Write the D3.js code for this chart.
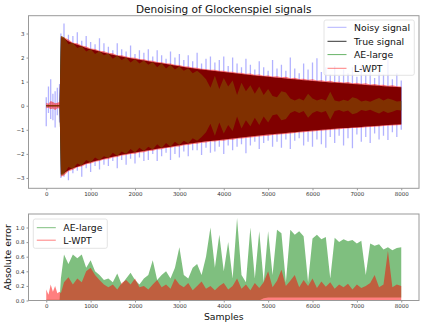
<!DOCTYPE html>
<html>
<head>
<meta charset="utf-8">
<script src="https://cdn.jsdelivr.net/npm/d3@7"></script>
<style>
  body { margin: 0; background: #fff; }
  text { font-family: "DejaVu Sans", sans-serif; }
</style>
</head>
<body>
<script>
// sample positions the envelopes were read at
const samples = [0, 50, 100, 150, 200, 250, 300, 330].concat(d3.range(400, 8001, 100));

// top panel: envelopes of the (dense) signals
const noisyHi = [0.35, 0.8, 1.1, 0.5, 0.6, 0.75, 0.9, 3.0,
  3.42, 2.95, 2.9, 3.05, 2.7, 2.9, 2.65, 2.55, 2.8, 2.6,
  2.45, 2.3, 2.6, 2.35, 2.25, 2.5, 2.15, 2.3, 2.2, 2.35,
  2.05, 2.3, 2.1, 1.95, 2.25, 2.0, 2.15, 1.9, 2.1, 1.85,
  2.2, 1.75, 1.95, 2.05, 1.8, 1.9, 2.05, 1.65, 2.0, 1.75,
  1.6, 1.95, 1.7, 1.5, 1.85, 1.6, 1.45, 1.9, 1.55, 1.7,
  1.45, 2.0, 1.55, 1.35, 1.75, 1.5, 1.8, 1.97, 1.4, 1.6,
  1.3, 1.65, 1.25, 1.5, 1.35, 1.6, 1.2, 1.7, 1.3, 1.5,
  1.15, 1.45, 1.3, 1.9, 1.1, 1.35, 1.05];
const noisyLo = [-0.85, -0.3, -0.55, -0.6, -0.9, -0.4, -0.7, -3.0,
  -2.95, -3.1, -2.8, -2.7, -2.95, -2.6, -2.75, -2.5, -2.65, -2.45,
  -2.5, -2.3, -2.6, -2.25, -2.45, -2.2, -2.4, -2.15, -2.3, -2.25,
  -2.0, -2.3, -2.1, -1.95, -2.25, -2.0, -2.15, -1.9, -2.1, -1.85,
  -1.85, -2.05, -1.75, -1.95, -1.9, -1.7, -2.0, -1.65, -1.85, -1.7,
  -1.6, -1.97, -1.65, -1.5, -1.8, -1.55, -1.45, -1.7, -1.5, -1.75,
  -1.4, -1.8, -1.45, -1.35, -1.65, -1.5, -1.7, -1.4, -1.6, -1.75,
  -1.3, -1.55, -1.25, -1.65, -1.35, -1.77, -1.2, -1.5, -1.3, -1.55,
  -1.15, -1.4, -1.25, -1.42, -1.1, -1.3, -1.0];
const trueAmp = [0.02, 0.02, 0.02, 0.02, 0.02, 0.02, 0.02, 2.85,
  2.8, 2.68, 2.6, 2.53, 2.47, 2.4, 2.35, 2.3, 2.25, 2.2,
  2.16, 2.12, 2.08, 2.04, 2.0, 1.97, 1.94, 1.91, 1.88, 1.85,
  1.82, 1.79, 1.76, 1.73, 1.7, 1.67, 1.64, 1.61, 1.58, 1.56,
  1.53, 1.51, 1.48, 1.46, 1.44, 1.42, 1.4, 1.38, 1.36, 1.34,
  1.32, 1.3, 1.28, 1.26, 1.24, 1.22, 1.2, 1.18, 1.16, 1.15,
  1.13, 1.11, 1.1, 1.08, 1.06, 1.05, 1.03, 1.02, 1.0, 0.99,
  0.97, 0.96, 0.94, 0.93, 0.92, 0.9, 0.89, 0.88, 0.86, 0.85,
  0.84, 0.83, 0.81, 0.8, 0.79, 0.78, 0.77];
const aeAmp = [0.03, 0.03, 0.03, 0.03, 0.03, 0.03, 0.03, 2.9,
  2.85, 2.55, 2.62, 2.4, 2.48, 2.25, 2.36, 2.15, 2.26, 2.1,
  2.17, 1.95, 2.09, 1.9, 2.0, 1.8, 1.94, 1.75, 1.88, 1.7,
  1.82, 1.6, 1.76, 1.55, 1.7, 1.5, 1.63, 1.45, 1.56, 1.35,
  1.45, 1.3, 1.1, 0.75, 1.25, 0.7, 1.15, 0.8, 1.05, 0.45,
  0.95, 0.6, 0.85, 0.5, 0.8, 0.45, 0.7, 0.4, 0.35, 0.6,
  0.55, 0.3, 0.22, 0.3, 0.22, 0.5, 0.3, 0.22, 0.28, 0.22,
  0.58, 0.22, 0.18, 0.25, 0.2, 0.35, 0.3, 0.18, 0.22, 0.17,
  0.25, 0.32, 0.22, 0.3, 0.25, 0.18, 0.2];
const lwptHi = [0.12, 0.08, 0.2, 0.15, 0.1, 0.12, 0.15, 2.9,
  2.85, 2.75, 2.62, 2.6, 2.5, 2.46, 2.38, 2.36, 2.28, 2.26,
  2.2, 2.18, 2.1, 2.1, 2.04, 2.0, 1.99, 1.94, 1.93, 1.88,
  1.87, 1.82, 1.81, 1.76, 1.75, 1.7, 1.69, 1.64, 1.63, 1.59,
  1.58, 1.54, 1.53, 1.49, 1.49, 1.45, 1.45, 1.41, 1.41, 1.37,
  1.37, 1.33, 1.34, 1.29, 1.3, 1.25, 1.26, 1.21, 1.22, 1.18,
  1.2, 1.14, 1.16, 1.11, 1.12, 1.08, 1.1, 1.05, 1.06, 1.02,
  1.04, 0.99, 1.0, 0.96, 0.99, 0.93, 0.95, 0.91, 0.93, 0.88,
  0.9, 0.86, 0.87, 0.83, 0.85, 0.81, 0.8];
const lwptLo = [-0.1, -0.08, -0.15, -0.12, -0.18, -0.1, -0.12, -2.95,
  -2.9, -2.72, -2.66, -2.56, -2.52, -2.43, -2.4, -2.33, -2.3, -2.23,
  -2.21, -2.15, -2.13, -2.07, -2.05, -2.0, -1.99, -1.94, -1.93, -1.88,
  -1.87, -1.82, -1.81, -1.76, -1.75, -1.7, -1.69, -1.64, -1.63, -1.59,
  -1.58, -1.54, -1.53, -1.49, -1.49, -1.45, -1.45, -1.41, -1.41, -1.37,
  -1.36, -1.34, -1.32, -1.3, -1.28, -1.26, -1.25, -1.22, -1.21, -1.18,
  -1.17, -1.15, -1.13, -1.11, -1.1, -1.08, -1.07, -1.05, -1.04, -1.02,
  -1.01, -0.99, -0.98, -0.96, -0.95, -0.93, -0.92, -0.91, -0.89, -0.88,
  -0.87, -0.86, -0.84, -0.83, -0.82, -0.81, -0.8];

// bottom panel: absolute error envelopes
const aeErr = [0.01, 0.01, 0.01, 0.01, 0.01, 0.01, 0.01, 0.3,
  0.63, 0.5, 0.63, 0.58, 0.63, 0.45, 0.55, 0.4, 0.35, 0.28,
  0.3, 0.25, 0.37, 0.22, 0.3, 0.38, 0.28, 0.22, 0.3, 0.35,
  0.55, 0.28, 0.35, 0.4, 0.3, 0.45, 0.73, 0.35, 0.3, 0.45,
  0.5, 0.35, 0.6, 1.0, 0.45, 0.9, 0.4, 0.8, 0.3, 1.13,
  0.35, 0.25, 1.0, 0.3, 0.95, 0.25, 0.95, 0.35, 0.97, 0.92,
  0.25, 0.97, 0.9, 0.95, 0.88, 0.25, 0.85, 0.9, 0.84, 0.87,
  0.3, 0.86, 0.8, 0.84, 0.81, 0.83, 0.78, 0.82, 0.35, 0.78,
  0.75, 0.77, 0.7, 0.73, 0.69, 0.72, 0.73];
const aeErrLo = [0, 0, 0, 0, 0, 0, 0, 0,
  0, 0, 0, 0, 0, 0, 0, 0, 0, 0,
  0, 0, 0, 0, 0, 0, 0, 0, 0, 0,
  0, 0, 0, 0, 0, 0, 0, 0, 0, 0,
  0, 0, 0, 0, 0, 0, 0, 0, 0, 0,
  0, 0, 0, 0, 0, 0.03, 0.04, 0.04, 0.04, 0.04,
  0.04, 0.04, 0.04, 0.04, 0.04, 0.04, 0.04, 0.04, 0.04, 0.04,
  0.04, 0.04, 0.04, 0.04, 0.04, 0.04, 0.04, 0.04, 0.04, 0.04,
  0.04, 0.04, 0.04, 0.04, 0.04, 0.04, 0.04];
const lwptErr = [0.15, 0.08, 0.22, 0.12, 0.2, 0.1, 0.12, 0.1,
  0.25, 0.32, 0.22, 0.3, 0.25, 0.4, 0.45, 0.35, 0.28, 0.22,
  0.18, 0.22, 0.15, 0.24, 0.28, 0.22, 0.3, 0.18, 0.2, 0.15,
  0.22, 0.28, 0.18, 0.22, 0.16, 0.3, 0.22, 0.18, 0.24, 0.14,
  0.2, 0.26, 0.16, 0.2, 0.14, 0.2, 0.24, 0.15, 0.2, 0.3,
  0.16, 0.22, 0.14, 0.24, 0.17, 0.25, 0.4, 0.18, 0.27, 0.42,
  0.2, 0.27, 0.35, 0.18, 0.28, 0.2, 0.3, 0.17, 0.26, 0.19,
  0.25, 0.16, 0.22, 0.18, 0.23, 0.15, 0.22, 0.17, 0.2, 0.24,
  0.35, 0.18, 0.22, 0.68, 0.18, 0.22, 0.2];

const xTicks = [0, 1000, 2000, 3000, 4000, 5000, 6000, 7000, 8000];
const yTicksTop = [-3, -2, -1, 0, 1, 2, 3];
const yTicksBot = [0.0, 0.2, 0.4, 0.6, 0.8, 1.0];
const topLegend = ["Noisy signal", "True signal", "AE-large", "L-WPT"];
const botLegend = ["AE-large", "L-WPT"];

const W = 423, H = 326;
const L = 28.5, R = 419;
const top1 = 15.7, bot1 = 188.3;
const top2 = 214, bot2 = 300.5;

const svg = d3.select("body").append("svg")
  .attr("width", W)
  .attr("height", H);

const x = d3.scaleLinear().domain([-400, 8400]).range([L, R]);
const y1 = d3.scaleLinear().domain([-3.43, 3.74]).range([bot1, top1]);
const y2 = d3.scaleLinear().domain([0, 1.185]).range([bot2, top2]);

const defs = svg.append("defs");
defs.append("clipPath").attr("id", "c1").append("rect")
  .attr("x", L).attr("y", top1).attr("width", R - L).attr("height", bot1 - top1);
defs.append("clipPath").attr("id", "c2").append("rect")
  .attr("x", L).attr("y", top2).attr("width", R - L).attr("height", bot2 - top2);

function band(ys, lo, hi) {
  return d3.area()
    .x((d, i) => x(samples[i]))
    .y0((d, i) => ys(lo(i)))
    .y1((d, i) => ys(hi(i)))(samples);
}

// top panel
const g1 = svg.append("g").attr("clip-path", "url(#c1)");
// noisy signal drawn as thin vertical strokes, one per read sample
g1.append("g").selectAll("line")
  .data(samples)
  .join("line")
  .attr("x1", d => x(d)).attr("x2", d => x(d))
  .attr("y1", (d, i) => y1(noisyLo[i]))
  .attr("y2", (d, i) => y1(noisyHi[i]))
  .attr("stroke", "#0000ff").attr("stroke-opacity", 0.3).attr("stroke-width", 1.3);
g1.append("path")
  .attr("d", band(y1, i => -trueAmp[i], i => trueAmp[i]))
  .attr("fill", "#000");
g1.append("path")
  .attr("d", band(y1, i => -aeAmp[i], i => aeAmp[i]))
  .attr("fill", "#008000").attr("fill-opacity", 0.75);
g1.append("path")
  .attr("d", band(y1, i => lwptLo[i], i => lwptHi[i]))
  .attr("fill", "#ff0000").attr("fill-opacity", 0.5);

// bottom panel
const g2 = svg.append("g").attr("clip-path", "url(#c2)");
g2.append("path")
  .attr("d", band(y2, i => aeErrLo[i], i => aeErr[i]))
  .attr("fill", "#008000").attr("fill-opacity", 0.5);
g2.append("path")
  .attr("d", band(y2, i => 0, i => lwptErr[i]))
  .attr("fill", "#ff0000").attr("fill-opacity", 0.5);

function frame(t, b) {
  svg.append("rect")
    .attr("x", L).attr("y", t).attr("width", R - L).attr("height", b - t)
    .attr("fill", "none").attr("stroke", "#999").attr("stroke-width", 1);
}
frame(top1, bot1);
frame(top2, bot2);

function styleAxis(a) {
  a.select(".domain").remove();
  a.selectAll(".tick line").attr("stroke", "#999");
  a.selectAll(".tick text").attr("fill", "#333").style("font-size", "5.5px")
    .style("font-family", "DejaVu Sans");
}

svg.append("g").attr("transform", `translate(0,${bot1})`)
  .call(d3.axisBottom(x).tickValues(xTicks).tickSize(2).tickPadding(2).tickFormat(d3.format("d")))
  .call(styleAxis);
svg.append("g").attr("transform", `translate(0,${bot2})`)
  .call(d3.axisBottom(x).tickValues(xTicks).tickSize(2).tickPadding(2).tickFormat(d3.format("d")))
  .call(styleAxis);
svg.append("g").attr("transform", `translate(${L},0)`)
  .call(d3.axisLeft(y1).tickValues(yTicksTop).tickSize(2).tickPadding(2).tickFormat(d3.format("d")))
  .call(styleAxis);
svg.append("g").attr("transform", `translate(${L},0)`)
  .call(d3.axisLeft(y2).tickValues(yTicksBot).tickSize(2).tickPadding(2).tickFormat(d3.format(".1f")))
  .call(styleAxis);

// labels
svg.append("text")
  .attr("x", (L + R) / 2).attr("y", 12.7)
  .attr("text-anchor", "middle")
  .style("font-size", "10.5px").attr("fill", "#111")
  .text("Denoising of Glockenspiel signals");
svg.append("text")
  .attr("x", (L + R) / 2).attr("y", 320)
  .attr("text-anchor", "middle")
  .style("font-size", "9.3px").attr("fill", "#111")
  .text("Samples");
svg.append("text")
  .attr("transform", `translate(10.5,${(top2 + bot2) / 2}) rotate(-90)`)
  .attr("text-anchor", "middle")
  .style("font-size", "9.3px").attr("fill", "#111")
  .text("Absolute error");

// legends
function legend(x0, y0, w, h, rows, items) {
  const lg = svg.append("g");
  lg.append("rect")
    .attr("x", x0).attr("y", y0).attr("width", w).attr("height", h)
    .attr("rx", 2).attr("fill", "#fff").attr("fill-opacity", 0.8)
    .attr("stroke", "#ddd").attr("stroke-width", 0.8);
  items.forEach((it, i) => {
    const cy = rows[i];
    lg.append("line")
      .attr("x1", x0 + 3.5).attr("x2", x0 + 22.5)
      .attr("y1", cy).attr("y2", cy)
      .attr("stroke", it.color).attr("stroke-opacity", it.op).attr("stroke-width", 1);
    lg.append("text")
      .attr("x", x0 + 30).attr("y", cy)
      .attr("dominant-baseline", "central")
      .style("font-size", "9.3px").attr("fill", "#111")
      .text(it.name);
  });
}
legend(324, 20, 90.3, 55.3, [27.3, 41.3, 54.6, 68.3], [
  { name: topLegend[0], color: "#0000ff", op: 0.3 },
  { name: topLegend[1], color: "#000", op: 0.8 },
  { name: topLegend[2], color: "#008000", op: 0.6 },
  { name: topLegend[3], color: "#ff0000", op: 0.5 }
]);
legend(33.3, 219, 74, 29.3, [227.7, 240.2], [
  { name: botLegend[0], color: "#008000", op: 0.5 },
  { name: botLegend[1], color: "#ff0000", op: 0.5 }
]);
</script>
</body>
</html>
